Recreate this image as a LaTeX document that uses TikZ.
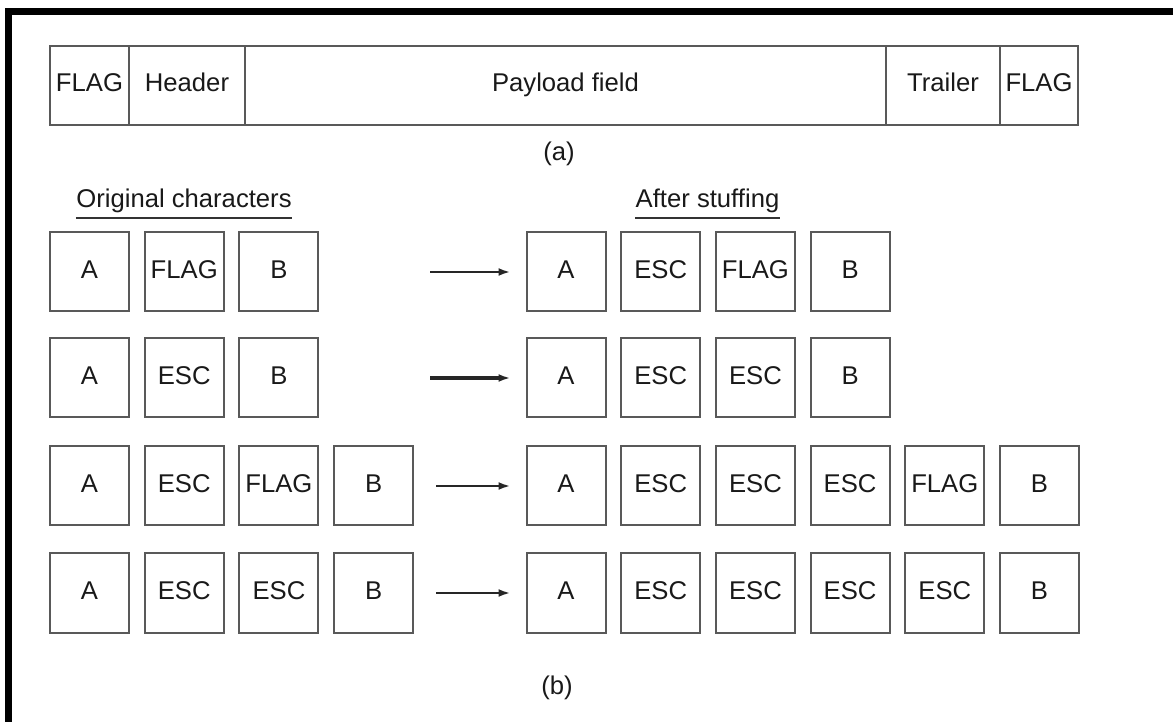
\documentclass[tikz,border=0pt]{standalone}
\usepackage{fontspec}
\setmainfont{Liberation Sans}
\usepackage{tikz}
\usetikzlibrary{arrows.meta}
\pgfkeys{tikz/field/.style={draw=black!65, line width=0.04cm,
                                minimum height=1.58cm,
                                inner sep=0pt, outer sep=0pt,
                                text height=0.72em, text depth=0.02em,
                                text=black!90,
                                font=\fontsize{14.6}{17}\selectfont}}
\pgfkeys{tikz/charbox/.style={field, minimum width=1.58cm}}
\pgfkeys{tikz/heading/.style={inner xsep=0pt, inner ysep=0.09cm, anchor=base,
                                  text=black!90,
                                  font=\fontsize{14.6}{17}\selectfont}}
\pgfkeys{tikz/stuffarrow/.style={draw=black!85, line width=0.05cm,
                                     shorten >=0.32cm,
                                     -{Latex[length=0.24cm,width=0.16cm]}}}

\begin{document}
\begin{tikzpicture}
                \useasboundingbox (0,0) rectangle (23.46,-14.44);
                \draw[line width=0.14cm] (0.17,-14.44) -- (0.17,-0.23) -- (23.46,-0.23);

                % (a) frame layout
                \node[field, minimum width=1.58cm] (f1) at (1.79, -1.71) {FLAG};
                \node[field, minimum width=2.32cm] (f2) at (3.74, -1.71) {Header};
                \node[field, minimum width=12.82cm] (f3) at (11.31, -1.71) {Payload field};
                \node[field, minimum width=2.28cm] (f4) at (18.86, -1.71) {Trailer};
                \node[field, minimum width=1.56cm] (f5) at (20.78, -1.71) {FLAG};

                \node[text=black!90, font=\fontsize{14.6}{17}\selectfont] (capa) at (11.18, -3.08) {(a)};

                % (b) headings
                \node[heading] (orig) at (3.68, -4.16) {Original characters};
                \node[heading] (stuf) at (14.15, -4.16) {After stuffing};
                \draw[line width=0.04cm, black!80] (orig.south west) -- (orig.south east);
                \draw[line width=0.04cm, black!80] (stuf.south west) -- (stuf.south east);

                % row 1
                \node[charbox] (o11) at (1.79, -5.44) {A};
                \node[charbox] (o12) at (3.684, -5.44) {FLAG};
                \node[charbox] (o13) at (5.578, -5.44) {B};
                \node[charbox] (s11) at (11.32, -5.44) {A};
                \node[charbox] (s12) at (13.214, -5.44) {ESC};
                \node[charbox] (s13) at (15.108, -5.44) {FLAG};
                \node[charbox] (s14) at (17.002, -5.44) {B};
                \coordinate (t1) at (8.6, -5.44);
                \draw[stuffarrow] (t1) -- (s11);

                % row 2
                \node[charbox] (o21) at (1.79, -7.56) {A};
                \node[charbox] (o22) at (3.684, -7.56) {ESC};
                \node[charbox] (o23) at (5.578, -7.56) {B};
                \node[charbox] (s21) at (11.32, -7.56) {A};
                \node[charbox] (s22) at (13.214, -7.56) {ESC};
                \node[charbox] (s23) at (15.108, -7.56) {ESC};
                \node[charbox] (s24) at (17.002, -7.56) {B};
                \coordinate (t2) at (8.6, -7.56);
                \draw[stuffarrow, line width=0.07cm] (t2) -- (s21);

                % row 3
                \node[charbox] (o31) at (1.79, -9.72) {A};
                \node[charbox] (o32) at (3.684, -9.72) {ESC};
                \node[charbox] (o33) at (5.578, -9.72) {FLAG};
                \node[charbox] (o34) at (7.472, -9.72) {B};
                \node[charbox] (s31) at (11.32, -9.72) {A};
                \node[charbox] (s32) at (13.214, -9.72) {ESC};
                \node[charbox] (s33) at (15.108, -9.72) {ESC};
                \node[charbox] (s34) at (17.002, -9.72) {ESC};
                \node[charbox] (s35) at (18.896, -9.72) {FLAG};
                \node[charbox] (s36) at (20.79, -9.72) {B};
                \coordinate (t3) at (8.72, -9.72);
                \draw[stuffarrow] (t3) -- (s31);

                % row 4
                \node[charbox] (o41) at (1.79, -11.86) {A};
                \node[charbox] (o42) at (3.684, -11.86) {ESC};
                \node[charbox] (o43) at (5.578, -11.86) {ESC};
                \node[charbox] (o44) at (7.472, -11.86) {B};
                \node[charbox] (s41) at (11.32, -11.86) {A};
                \node[charbox] (s42) at (13.214, -11.86) {ESC};
                \node[charbox] (s43) at (15.108, -11.86) {ESC};
                \node[charbox] (s44) at (17.002, -11.86) {ESC};
                \node[charbox] (s45) at (18.896, -11.86) {ESC};
                \node[charbox] (s46) at (20.79, -11.86) {B};
                \coordinate (t4) at (8.72, -11.86);
                \draw[stuffarrow] (t4) -- (s41);

                \node[text=black!90, font=\fontsize{14.6}{17}\selectfont] (capb) at (11.14, -13.76) {(b)};

            \end{tikzpicture}
\end{document}
